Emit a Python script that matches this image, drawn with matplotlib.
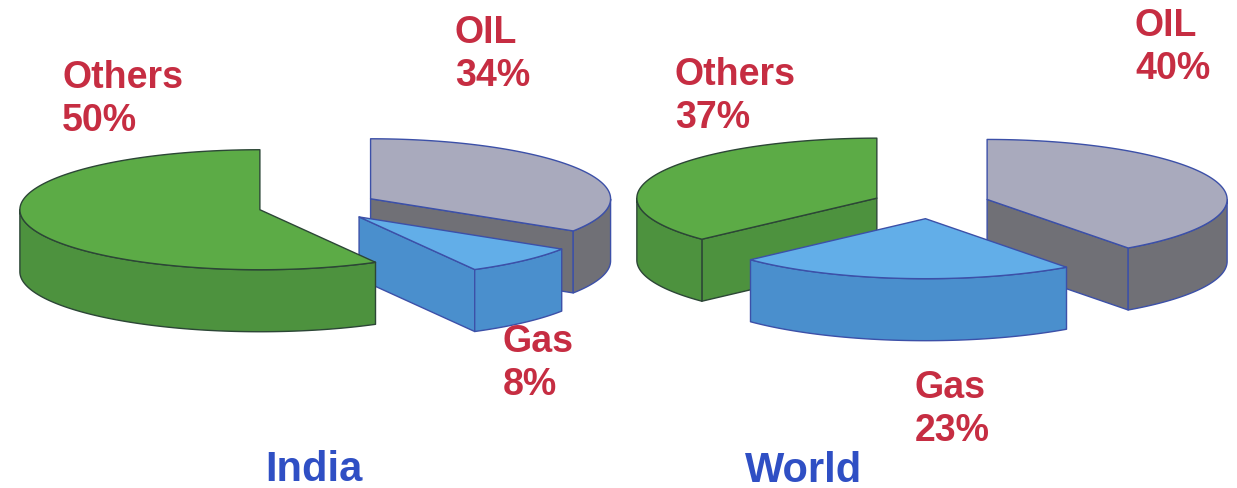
import numpy as np
import matplotlib.pyplot as plt
from matplotlib.patches import Polygon

# slice order: OIL, Gas, Others (clockwise from 12 o'clock)
names = ['OIL', 'Gas', 'Others']
india_share = [34, 8, 58]          # slice sizes as drawn (%)
india_text = ['34%', '8%', '50%']  # printed labels
world_share = [40, 23, 37]
world_text = ['40%', '23%', '37%']

tops = ['#a9aabd', '#62aee8', '#5cab46']
sides = ['#707076', '#4a8fcd', '#4d923e']
edges = ['#3c50a8', '#3c50a8', '#2c4636']

RX, RY, DEPTH = 240, 60, 62


def rim(cx, cy, th):
    return cx + RX * np.cos(th), cy - RY * np.sin(th)


def draw_slice(ax, cx, cy, lo, hi, top, side, edge):
    kw = dict(lw=1.0, ec=edge, joinstyle='round')
    # radial cut faces
    for a, vis in ((lo, np.cos(np.radians(lo)) > 1e-6),
                   (hi, np.cos(np.radians(hi)) < -1e-6)):
        if vis:
            x, y = rim(cx, cy, np.radians(a))
            pts = [(cx, cy), (x, y), (x, y + DEPTH), (cx, cy + DEPTH)]
            ax.add_patch(Polygon(pts, fc=side, **kw))
    # curved front wall
    th = np.radians(np.linspace(lo, hi, 400))
    front = np.sin(th) < 0
    idx = np.where(front)[0]
    if len(idx):
        segs = np.split(idx, np.where(np.diff(idx) > 1)[0] + 1)
        for s in segs:
            x, y = rim(cx, cy, th[s])
            pts = np.column_stack([np.r_[x, x[::-1]],
                                   np.r_[y, (y + DEPTH)[::-1]]])
            ax.add_patch(Polygon(pts, fc=side, **kw))
    # top face
    x, y = rim(cx, cy, th)
    pts = np.column_stack([np.r_[cx, x], np.r_[cy, y]])
    ax.add_patch(Polygon(pts, fc=top, **kw))


def draw_pie(ax, cx, cy, shares, explode, order):
    ends = 90 - np.cumsum(shares) * 3.6
    starts = np.r_[90, ends[:-1]]
    for i in order:
        lo, hi = ends[i], starts[i]
        mid = np.radians((lo + hi) / 2)
        sx = cx + explode * np.cos(mid)
        sy = cy - explode * np.sin(mid) * RY / RX
        draw_slice(ax, sx, sy, lo, hi, tops[i], sides[i], edges[i])


fig = plt.figure(figsize=(12.37, 4.89), dpi=100)
ax = fig.add_axes([0, 0, 1, 1])
ax.set_xlim(0, 1237)
ax.set_ylim(489, 0)
ax.axis('off')

draw_pie(ax, 318, 207, india_share, 60, [0, 1, 2])
draw_pie(ax, 931, 205, world_share, 59, [0, 2, 1])

red = '#c62d42'
blue = '#2f4fc4'
lab = dict(color=red, fontsize=27, fontweight='bold',
           family=['Liberation Sans', 'DejaVu Sans'], va='baseline')

india_pos = [(455, 43), (503, 352), (62, 88)]
world_pos = [(1135, 36), (915, 398), (675, 85)]
for pos, txt in ((india_pos, india_text), (world_pos, world_text)):
    for (x, y), n, t in zip(pos, names, txt):
        ax.text(x, y, n, **lab)
        ax.text(x, y + 43, t, **lab)

ttl = dict(color=blue, fontsize=30, fontweight='bold',
           family=['Liberation Sans', 'DejaVu Sans'], va='baseline')
ax.text(265, 481, 'India', **ttl)
ax.text(745, 482, 'World', **ttl)

fig.savefig('out.png', dpi=100)
